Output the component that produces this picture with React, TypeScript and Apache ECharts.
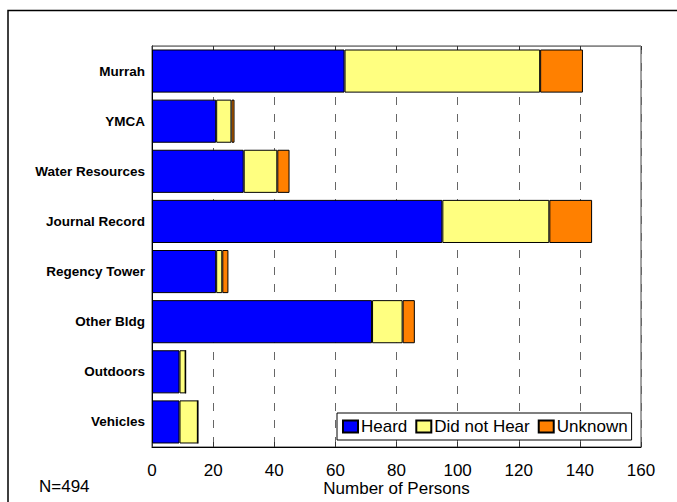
import React, { useEffect, useRef } from "react";
import * as echarts from "echarts";

const categories = [
  "Murrah",
  "YMCA",
  "Water Resources",
  "Journal Record",
  "Regency Tower",
  "Other Bldg",
  "Outdoors",
  "Vehicles",
];
const heard = [63, 21, 30, 95, 21, 72, 9, 9];
const didNotHear = [64, 5, 11, 35, 2, 10, 2, 6];
const unknown = [14, 1, 4, 14, 2, 4, 0, 0];
const seriesNames = ["Heard", "Did not Hear", "Unknown"];
const seriesColors = ["#0000FF", "#FFFF80", "#FF8000"];
const xTicks = { min: 0, max: 160, interval: 20 };
const noteText = "N=494";
const axisTitle = "Number of Persons";

const FONT = "Arial, 'Liberation Sans', sans-serif";

export default function App() {
  const ref = useRef<HTMLDivElement>(null);
  useEffect(() => {
    if (!ref.current) return;
    const chart = echarts.init(ref.current, null, { renderer: "svg" });
    const values = [heard, didNotHear, unknown];
    chart.setOption({
      animation: false,
      backgroundColor: "#fff",
      textStyle: { fontFamily: FONT },
      grid: {
        left: 152,
        top: 46,
        right: 36,
        bottom: 55,
        containLabel: false,
        outerBoundsMode: "none",
        show: true,
        borderColor: "#444",
        borderWidth: 1,
      },
      legend: {
        data: seriesNames,
        left: 337,
        top: 413,
        orient: "horizontal",
        icon: "rect",
        itemWidth: 15,
        itemHeight: 12,
        itemGap: 8,
        padding: [5, 4, 5, 5],
        borderColor: "#000",
        borderWidth: 1,
        borderRadius: 0,
        backgroundColor: "#fff",
        textStyle: { fontSize: 17, color: "#000", fontFamily: FONT, padding: [0, 0, 0, -2] },
      },
      xAxis: [
        {
          type: "value",
          position: "bottom",
          min: xTicks.min,
          max: xTicks.max,
          interval: xTicks.interval,
          name: axisTitle,
          nameLocation: "middle",
          nameGap: 33,
          nameMoveOverlap: false,
          nameTextStyle: { fontSize: 17, color: "#000", fontFamily: FONT },
          axisLine: { show: true, lineStyle: { color: "#000", width: 1 } },
          axisTick: { show: true, inside: true, length: 5, lineStyle: { color: "#333" } },
          axisLabel: { fontSize: 17, color: "#000", margin: 15, fontFamily: FONT },
          splitLine: {
            show: true,
            lineStyle: { color: "#666", width: 1, type: [8, 9] },
          },
        },
        {
          type: "value",
          position: "top",
          min: xTicks.min,
          max: xTicks.max,
          interval: xTicks.interval,
          axisLine: { show: true, lineStyle: { color: "#888", width: 1 } },
          axisTick: { show: true, inside: true, length: 4, lineStyle: { color: "#333" } },
          axisLabel: { show: false },
          splitLine: { show: false },
        },
      ],
      yAxis: {
        type: "category",
        inverse: true,
        data: categories,
        axisLine: { show: true, lineStyle: { color: "#000", width: 1 } },
        axisTick: { show: false },
        axisLabel: {
          fontSize: 13.5,
          fontWeight: "bold",
          color: "#000",
          margin: 7,
          fontFamily: FONT,
          padding: [6, 0, 0, 0],
        },
      },
      series: seriesNames.map((name, i) => ({
        name,
        type: "bar",
        stack: "total",
        data: values[i],
        barCategoryGap: "14%",
        itemStyle: { color: seriesColors[i], borderColor: "#000", borderWidth: 1 },
      })),
      graphic: [
        {
          type: "rect",
          shape: { x: 8, y: 10.5, width: 800, height: 800 },
          style: { fill: "none", stroke: "#000", lineWidth: 1.5 },
          silent: true,
        },
        {
          type: "text",
          left: 39,
          top: 478,
          style: { text: noteText, fontSize: 17, fill: "#000", fontFamily: FONT },
        },
      ],
    });
    return () => chart.dispose();
  }, []);
  return (
    <div
      ref={ref}
      style={{ position: "fixed", left: 0, top: 0, width: 677, height: 502 }}
    />
  );
}
